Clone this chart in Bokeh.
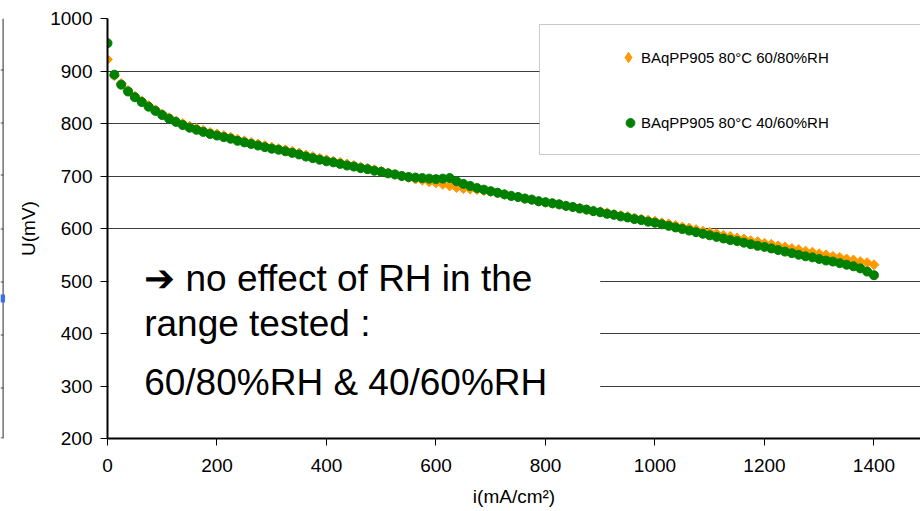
import math

from bokeh.embed import file_html
from bokeh.layouts import row
from bokeh.models import (BoxAnnotation, ColumnDataSource, Label, Legend,
                          LegendItem, Range1d, SingleIntervalTicker)
from bokeh.plotting import figure
from bokeh.resources import INLINE

# current density, mA/cm²
current = [
    0, 12.5, 25, 37.5, 50, 62.5, 75, 87.5, 100, 112.5,
    125, 137.5, 150, 162.5, 175, 187.5, 200, 212.5, 225, 237.5,
    250, 262.5, 275, 287.5, 300, 312.5, 325, 337.5, 350, 362.5,
    375, 387.5, 400, 412.5, 425, 437.5, 450, 462.5, 475, 487.5,
    500, 512.5, 525, 537.5, 550, 562.5, 575, 587.5, 600, 612.5,
    625, 637.5, 650, 662.5, 675, 687.5, 700, 712.5, 725, 737.5,
    750, 762.5, 775, 787.5, 800, 812.5, 825, 837.5, 850, 862.5,
    875, 887.5, 900, 912.5, 925, 937.5, 950, 962.5, 975, 987.5,
    1000, 1012.5, 1025, 1037.5, 1050, 1062.5, 1075, 1087.5, 1100, 1112.5,
    1125, 1137.5, 1150, 1162.5, 1175, 1187.5, 1200, 1212.5, 1225, 1237.5,
    1250, 1262.5, 1275, 1287.5, 1300, 1312.5, 1325, 1337.5, 1350, 1362.5,
    1375, 1387.5, 1400,
]

# cell voltage, mV — BAqPP905 80°C 60/80%RH
u_rh_60_80 = [
    922, 891, 876, 863, 852, 843, 834, 826, 818, 811,
    805, 800, 795, 791, 787, 783, 780, 777, 774, 770,
    767, 764, 761, 758, 755, 752, 750, 747, 744, 740,
    737, 734, 731, 728, 726, 723, 720, 717, 715, 712,
    709, 706, 703, 700, 697, 694, 692, 689, 687, 684,
    681, 678, 676, 675, 674, 672, 670, 668, 665, 662,
    660, 657, 655, 652, 650, 648, 646, 643, 641, 639,
    636, 634, 632, 630, 627, 625, 623, 620, 618, 616,
    614, 611, 609, 606, 603, 601, 598, 595, 593, 590,
    587, 585, 582, 580, 577, 575, 572, 570, 567, 565,
    562, 560, 557, 555, 552, 550, 547, 545, 542, 540,
    537, 535, 531,
]

# cell voltage, mV — BAqPP905 80°C 40/60%RH
u_rh_40_60 = [
    953, 893, 874, 861, 850, 841, 832, 824, 816, 809,
    803, 797, 792, 788, 784, 780, 777, 774, 771, 767,
    764, 761, 758, 755, 752, 750, 747, 744, 741, 737,
    734, 731, 728, 726, 723, 720, 718, 715, 713, 710,
    708, 705, 703, 700, 698, 697, 696, 695, 694, 695,
    696, 690, 685, 681, 677, 674, 671, 668, 665, 662,
    660, 657, 655, 652, 650, 648, 646, 643, 641, 638,
    636, 633, 631, 628, 626, 623, 621, 618, 616, 613,
    611, 608, 605, 602, 599, 596, 593, 590, 587, 584,
    581, 578, 576, 573, 570, 567, 565, 562, 559, 556,
    553, 550, 547, 545, 542, 539, 537, 534, 531, 528,
    524, 518, 511,
]

series_names = ["BAqPP905 80°C 60/80%RH", "BAqPP905 80°C 40/60%RH"]
note_lines = ["\u2794 no effect of RH in the", "range tested :", "60/80%RH & 40/60%RH"]

FONT = "Liberation Sans"
ORANGE = "#FF9900"
GREEN = "#008000"

# thin strip on the left: edge of the neighbouring panel.
# Its frame is aligned with the main frame (rows 18..438), so the y range
# is set up to read in page pixels.
edge = figure(
    width=5, height=511, x_range=Range1d(0, 5), y_range=Range1d(438, 18),
    output_backend="svg", toolbar_location=None, min_border=0,
    x_axis_location=None, y_axis_location=None,
    background_fill_color="white", border_fill_color="white",
)
edge.outline_line_color = None
edge.grid.visible = False
edge.add_layout(BoxAnnotation(left=2, right=3.2, top=18, bottom=438,
                              fill_color="#3a3a3a", fill_alpha=0.9, line_color=None))
for ty in (69, 122, 174, 228, 281, 334, 387, 437):
    edge.add_layout(BoxAnnotation(left=0, right=3, top=ty, bottom=ty + 1,
                                  fill_color="#3a3a3a", fill_alpha=0.9, line_color=None))
edge.add_layout(BoxAnnotation(left=0, right=5, top=294, bottom=302,
                              fill_color="#3D6BFF", fill_alpha=1.0, line_color=None))

p = figure(
    width=915, height=511,
    x_range=Range1d(0, 1485), y_range=Range1d(200, 1000),
    output_backend="svg", toolbar_location=None,
    min_border_left=102, min_border_right=0,
    min_border_top=18, min_border_bottom=73,
    background_fill_color="white", border_fill_color="white",
)
p.outline_line_color = None

# axes
p.xaxis.ticker = SingleIntervalTicker(interval=200, num_minor_ticks=0)
p.yaxis.ticker = SingleIntervalTicker(interval=100, num_minor_ticks=0)
for ax in (p.xaxis, p.yaxis):
    ax.axis_line_color = "black"
    ax.axis_line_width = 2
    ax.major_tick_line_color = "black"
    ax.major_tick_line_width = 1
    ax.major_tick_out = 7
    ax.major_tick_in = 0
    ax.minor_tick_line_color = None
    ax.major_label_text_font = FONT
    ax.major_label_text_font_size = "19px"
    ax.major_label_text_color = "black"
    ax.axis_label_text_font = FONT
    ax.axis_label_text_font_size = "19px"
    ax.axis_label_text_font_style = "normal"
    ax.axis_label_text_color = "black"
p.xaxis.axis_label = "i(mA/cm²)"
p.yaxis.axis_label = "U(mV)"
p.xaxis.major_label_standoff = 13
p.yaxis.major_label_standoff = 8
p.xaxis.axis_label_standoff = 11
p.yaxis.axis_label_standoff = 8

p.xgrid.grid_line_color = None
p.ygrid.grid_line_color = "#3c3c3c"
p.ygrid.grid_line_width = 1

# white panel behind the note
note_panel = BoxAnnotation(left=2, right=900, bottom=244, top=558,
                           fill_color="white", fill_alpha=1.0,
                           line_color=None, level="underlay")
p.add_layout(note_panel)

# legend frame
legend_panel = BoxAnnotation(left=789, right=1700, bottom=741, top=988.6,
                             fill_color="white", fill_alpha=1.0,
                             line_color="#4d4d4d", line_width=1,
                             level="underlay")
p.add_layout(legend_panel)

src = ColumnDataSource(dict(i=current, u1=u_rh_60_80, u2=u_rh_40_60))
r_orange = p.scatter("i", "u1", source=src, marker="square", angle=math.pi / 4,
                     size=7, fill_color=ORANGE, line_color=ORANGE)
# legend swatch for the diamond series (legend glyphs are drawn unrotated);
# a small diamond on the first point, hidden inside the rotated square
key_orange = p.scatter(x=current[:1], y=u_rh_60_80[:1], marker="diamond",
                       size=6, fill_color=ORANGE, line_color=ORANGE)
r_green = p.scatter("i", "u2", source=src, marker="circle", size=9,
                    fill_color=GREEN, line_color=GREEN)

legend_style = dict(padding=0, margin=0, label_standoff=0,
                    label_text_font=FONT, label_text_font_size="15px",
                    label_text_color="black",
                    border_line_color=None, background_fill_alpha=0)

legend_a = Legend(
    items=[LegendItem(label=series_names[0], renderers=[key_orange])],
    location=(508, 366), glyph_width=26, glyph_height=30, label_height=30,
    **legend_style,
)
legend_b = Legend(
    items=[LegendItem(label=series_names[1], renderers=[r_green])],
    location=(512, 303), glyph_width=22, glyph_height=25, label_height=25,
    **legend_style,
)
p.add_layout(legend_a)
p.add_layout(legend_b)

for txt, yb in zip(note_lines, [505, 419, 307]):
    p.add_layout(Label(x=67, y=yb, text=txt, text_font=FONT,
                       text_font_size="37px", text_color="black",
                       text_baseline="alphabetic", text_align="left"))

open("out.html", "w").write(file_html(row(edge, p, spacing=0), INLINE))
